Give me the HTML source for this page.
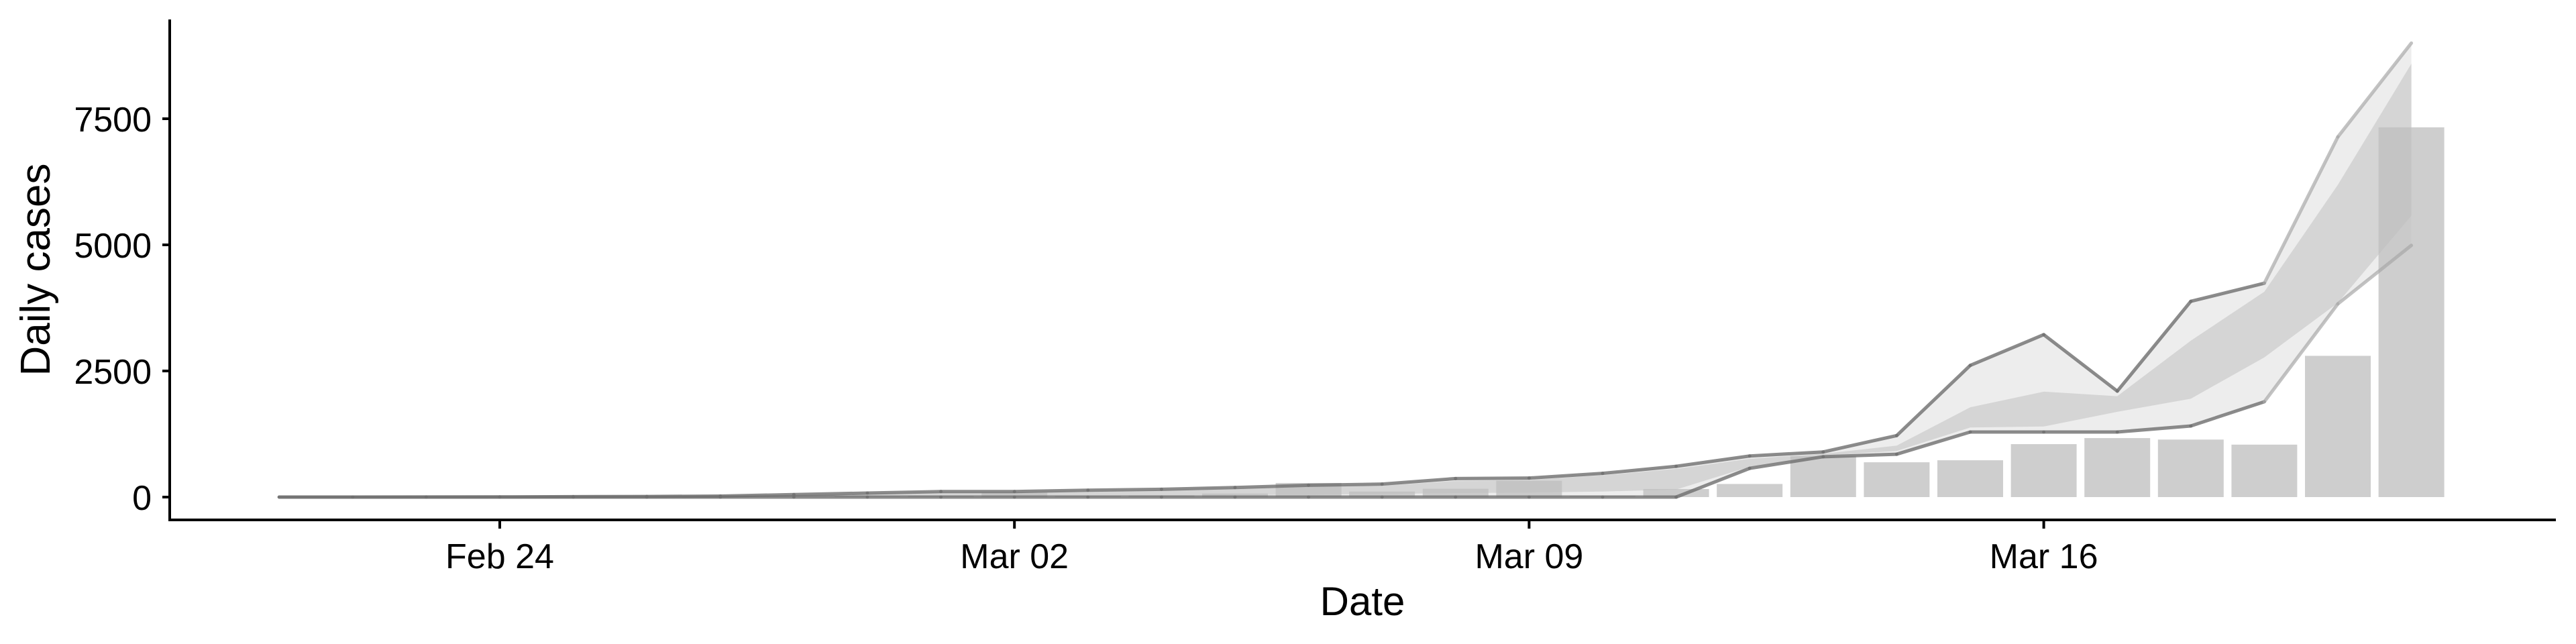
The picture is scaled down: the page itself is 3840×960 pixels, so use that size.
<!DOCTYPE html>
<html><head><meta charset="utf-8"><style>
html,body{margin:0;padding:0;background:#fff;}
svg{display:block;font-family:"Liberation Sans",sans-serif;}
</style></head><body>
<svg id="chart" width="3840" height="960" viewBox="0 0 3840 960" xmlns="http://www.w3.org/2000/svg">
<g id="bands"></g><g id="bars"></g><g id="lines"></g><g id="axes"></g>
</svg>
<script>
// day offsets relative to Feb 24 (Feb 21 .. Mar 21)
const days = [-3,-2,-1,0,1,2,3,4,5,6,7,8,9,10,11,12,13,14,15,16,17,18,19,20,21,22,23,24,25,26];
const barValues = [0,0,0,0,0,0,0,5,20,30,90,25,35,70,280,110,165,325,30,160,260,810,690,730,1050,1170,1140,1040,2800,7330];
const upperLine = [0,0,2,3,8,12,20,50,80,110,110,137,155,190,235,257,368,377,470,610,815,895,1220,2610,3220,2100,3880,4240,7140,9000];
const lowerLine = [0,0,0,0,0,0,0,0,0,0,0,0,0,0,0,0,0,0,0,0,570,800,850,1290,1290,1290,1410,1890,3830,4990];
const innerUpper = [0,0,1,2,6,10,16,40,65,90,95,115,135,165,205,225,320,340,430,560,760,860,1020,1780,2090,2000,3100,4070,6190,8590];
const innerLower = [0,0,0,0,1,2,4,10,15,20,20,25,30,40,50,60,80,90,110,150,600,820,915,1380,1400,1690,1950,2770,3850,5580];
const yTicks = [0,2500,5000,7500];
const xTickDays = [0,7,14,21];
const xTickLabels = ["Feb 24","Mar 02","Mar 09","Mar 16"];

const NS="http://www.w3.org/2000/svg";
const x = d => 745 + 109.6*d;
const y = v => 741 - v*188/2500;
function mk(tag, attrs, parent){const e=document.createElementNS(NS,tag);for(const k in attrs)e.setAttribute(k,attrs[k]);parent.appendChild(e);return e;}
const gB=document.getElementById('bands'),gR=document.getElementById('bars'),gL=document.getElementById('lines'),gA=document.getElementById('axes');

function ribbon(lo,hi,fill,op,name){
  let pts=days.map((d,i)=>x(d)+','+y(hi[i]));
  for(let i=days.length-1;i>=0;i--)pts.push(x(days[i])+','+y(lo[i]));
  const p=mk('polygon',{points:pts.join(' '),fill:fill,'fill-opacity':op},gB);
  
  
}
ribbon(lowerLine,upperLine,'#d6d6d6',0.45,'outer-ribbon');
ribbon(innerLower,innerUpper,'#bdbdbd',0.5,'inner-ribbon');

days.forEach((d,i)=>{
  const r=mk('rect',{x:x(d)-49,y:y(barValues[i]),width:98,height:Math.max(0,y(0)-y(barValues[i])),fill:'#bdbdbd','fill-opacity':0.75},gR);
  
  
});

function line(vals,name){
  for(let i=0;i<days.length-1;i++){
    const late=i>=days.length-3;
    const s=mk('line',{x1:x(days[i]),y1:y(vals[i]),x2:x(days[i+1]),y2:y(vals[i+1]),stroke:late?'#a8a8a8':'#6e6e6e','stroke-opacity':late?0.7:0.8,'stroke-width':5,'stroke-linecap':'round'},gL);
    
    
  }
}
line(upperLine,'upper-line');
line(lowerLine,'lower-line');

// axes
const ya=mk('line',{x1:253,y1:29,x2:253,y2:777,stroke:'#000','stroke-width':4},gA);

const xa=mk('line',{x1:251,y1:775,x2:3810,y2:775,stroke:'#000','stroke-width':4},gA);

yTicks.forEach(v=>{
  const t=mk('line',{x1:242,y1:y(v),x2:253,y2:y(v),stroke:'#000','stroke-width':4},gA);
  
  const l=mk('text',{x:226,y:y(v)+19,'text-anchor':'end','font-size':52,fill:'#000'},gA);
  l.textContent=v;
  
});
xTickDays.forEach((d,i)=>{
  const t=mk('line',{x1:x(d),y1:775,x2:x(d),y2:788,stroke:'#000','stroke-width':4},gA);
  
  const l=mk('text',{x:x(d),y:847,'text-anchor':'middle','font-size':52,fill:'#000'},gA);
  l.textContent=xTickLabels[i];
  
});
const xt=mk('text',{x:2031,y:917,'text-anchor':'middle','font-size':60,fill:'#000'},gA);
xt.textContent='Date';

const yt=mk('text',{x:0,y:0,'text-anchor':'middle','font-size':62,fill:'#000',transform:'translate(74,402) rotate(-90)'},gA);
yt.textContent='Daily cases';

</script>
</body></html>
